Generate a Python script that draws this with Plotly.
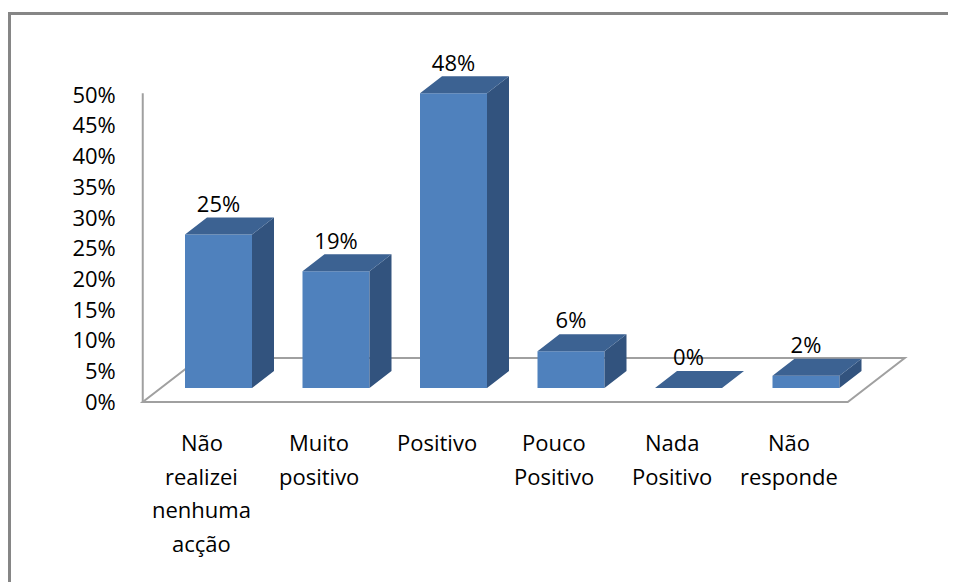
import plotly.graph_objects as go

# ---- data ----
categories = ["Não<br>realizei<br>nenhuma<br>acção", "Muito<br>positivo", "Positivo",
              "Pouco<br>Positivo", "Nada<br>Positivo", "Não<br>responde"]
values = [25, 19, 48, 6, 0, 2]
ytick_vals = [0, 5, 10, 15, 20, 25, 30, 35, 40, 45, 50]
ytick_text = ["0%", "5%", "10%", "15%", "20%", "25%", "30%", "35%", "40%", "45%", "50%"]
value_labels = [f"{v}%" for v in values]

# ---- geometry ----
OFF = 8                      # page body margin
W, H = 956 - OFF, 582 - OFF  # figure size so that it fits the window
PX_PER_CAT = 117.5
PX_PER_PCT = 6.14
X0_PX = 201.5 - OFF          # figure pixel of category 0 on the floor front
Y0_PX = 402.0 - OFF          # figure pixel of 0% on the floor front
xrange = [-X0_PX / PX_PER_CAT, (W - X0_PX) / PX_PER_CAT]
yrange = [(Y0_PX - H) / PX_PER_PCT, Y0_PX / PX_PER_PCT]

bar_shift = 17 / PX_PER_CAT        # bar front-face centre offset
bar_w = 67 / PX_PER_CAT
bar_base = 14 / PX_PER_PCT         # bar front-face bottom above floor front
dep_x = 22 / PX_PER_CAT            # bar depth
dep_y = 17 / PX_PER_PCT
floor_dx = 57 / PX_PER_CAT
floor_dy = 44 / PX_PER_PCT
n = len(categories)

FRONT = "#4F81BD"
TOP = "#3C6292"
SIDE = "#32537E"
GRID = "#A0A0A0"
FONT = "Open Sans"
FS = 22

fig = go.Figure()

# floor outline (below all traces)
fx = [-0.5, n - 0.5, n - 0.5 + floor_dx, -0.5 + floor_dx]
fy = [0, 0, floor_dy, floor_dy]
path = "M " + " L ".join(f"{a},{b}" for a, b in zip(fx, fy)) + " Z"
fig.add_shape(type="path", path=path, xref="x", yref="y", layer="below",
              line=dict(color=GRID, width=2), fillcolor="white")
# vertical axis line
fig.add_shape(type="line", xref="x", yref="y", x0=-0.5, x1=-0.5, y0=0,
              y1=ytick_vals[-1] + 0.3, layer="below", line=dict(color=GRID, width=2))

# front faces
fig.add_trace(go.Bar(x=[i + bar_shift for i in range(n)], y=values, base=bar_base,
                     width=bar_w, marker=dict(color=FRONT, line=dict(width=0)),
                     hoverinfo="skip", showlegend=False))

# side and top faces
sx, sy, tx, ty = [], [], [], []
for i, v in enumerate(values):
    l = i + bar_shift - bar_w / 2
    r = i + bar_shift + bar_w / 2
    b = bar_base
    t = bar_base + v
    sx += [r, r + dep_x, r + dep_x, r, r, None]
    sy += [b, b + dep_y, t + dep_y, t, b, None]
    tx += [l, r, r + dep_x, l + dep_x, l, None]
    ty += [t, t, t + dep_y, t + dep_y, t, None]
fig.add_trace(go.Scatter(x=sx, y=sy, mode="lines", line=dict(width=0), fill="toself",
                         fillcolor=SIDE, hoverinfo="skip", showlegend=False))
fig.add_trace(go.Scatter(x=tx, y=ty, mode="lines", line=dict(width=0), fill="toself",
                         fillcolor=TOP, hoverinfo="skip", showlegend=False))

# value labels
fig.add_trace(go.Scatter(x=[i + bar_shift for i in range(n)],
                         y=[v + bar_base + 4.6 for v in values],
                         mode="text", text=value_labels, textposition="middle center",
                         textfont=dict(family=FONT, size=FS, color="black"),
                         hoverinfo="skip", showlegend=False, cliponaxis=False))

# category labels (one annotation per line for Excel-like line spacing)
LINE0_PX = 442 - OFF
PITCH = 33.7
for i, c in enumerate(categories):
    for k, line in enumerate(c.split("<br>")):
        fig.add_annotation(x=i, xref="x", y=1 - (LINE0_PX + k * PITCH) / H, yref="paper",
                           text=line, showarrow=False, xanchor="center", yanchor="middle",
                           font=dict(family=FONT, size=FS, color="black"))

# outer frame
fig.add_shape(type="rect", xref="paper", yref="paper",
              x0=(9.5 - OFF) / W, x1=1.05, y0=-0.05, y1=1 - (13.5 - OFF) / H,
              line=dict(color="#868686", width=3), layer="above")

fig.update_layout(
    width=W, height=H, margin=dict(l=0, r=0, t=0, b=0),
    paper_bgcolor="white", plot_bgcolor="white",
    barmode="overlay",
    xaxis=dict(range=xrange, visible=False, fixedrange=True),
    yaxis=dict(range=yrange, anchor="free", position=(X0_PX - 0.5 * PX_PER_CAT) / W,
               tickvals=ytick_vals, ticktext=ytick_text, showgrid=False, zeroline=False,
               showline=False, ticks="", ticklabelstandoff=27,
               tickfont=dict(family=FONT, size=FS, color="black"), fixedrange=True),
)

fig.write_html("out.html")
